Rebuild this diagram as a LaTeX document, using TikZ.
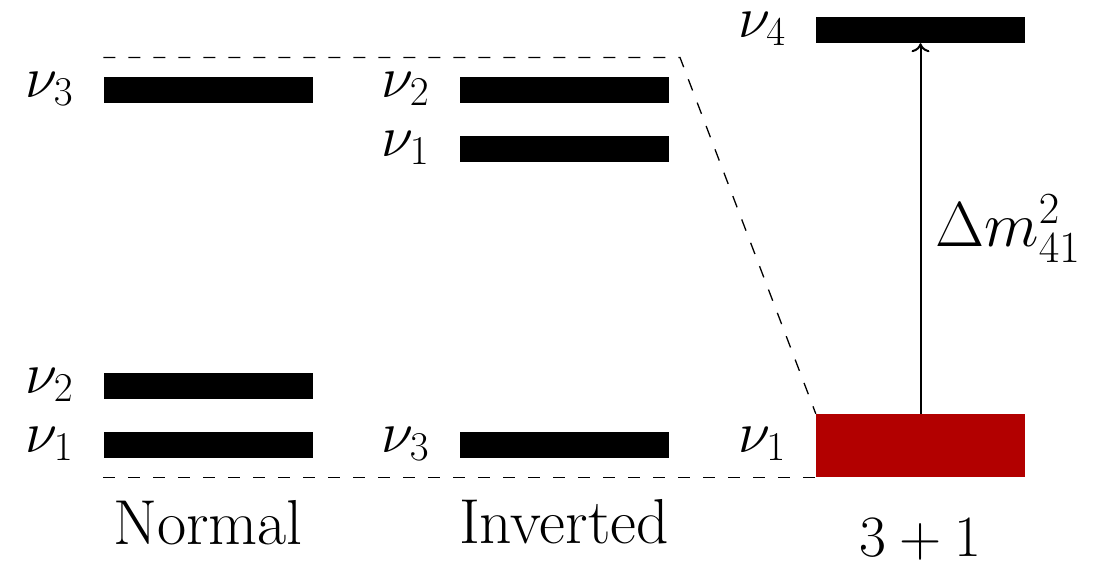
\RequirePackage{fix-cm}
\documentclass[tikz,border=0pt]{standalone}
\usetikzlibrary{arrows.meta}
\definecolor{sterile}{RGB}{178,0,0}
\begin{document}
\begin{tikzpicture}[x=1pt,y=-1pt,
  every node/.style={font=\fontsize{58.5}{70}\selectfont},
  big/.style={font=\fontsize{63.5}{76}\selectfont},
  level/.style={fill=black, inner sep=0pt, minimum width=209pt, minimum height=26pt},
  lbl/.style={anchor=base east, inner sep=0pt},
  scheme/.style={anchor=base, inner sep=0pt},
  guide/.style={dash pattern=on 12pt off 13pt, line width=1.3pt},
  gap/.style={line width=2pt, -{To[length=9pt,width=18pt]}},
]
\useasboundingbox (0,0) rectangle (1102,562);

% normal ordering
\node[level] (n3) at (208,90)  {};
\node[level] (n2) at (208,386) {};
\node[level] (n1) at (208,445) {};
\node[lbl] (ln3) at ([shift={(-30,7)}]n3.west) {$\nu_3$};
\node[lbl] (ln2) at ([shift={(-30,7)}]n2.west) {$\nu_2$};
\node[lbl] (ln1) at ([shift={(-30,7)}]n1.west) {$\nu_1$};

% inverted ordering
\node[level] (i2) at (564,90)  {};
\node[level] (i1) at (564,149) {};
\node[level] (i3) at (564,445) {};
\node[lbl] (li2) at ([shift={(-30,7)}]i2.west) {$\nu_2$};
\node[lbl] (li1) at ([shift={(-30,7)}]i1.west) {$\nu_1$};
\node[lbl] (li3) at ([shift={(-30,7)}]i3.west) {$\nu_3$};

% 3+1 scheme
\node[level] (s4) at (920.5,30) {};
\node[fill=sterile, inner sep=0pt, minimum width=209pt, minimum height=63pt] (s1) at (920.5,445.5) {};
\node[lbl] (ls4) at ([shift={(-30,7)}]s4.west) {$\nu_4$};
\node[lbl] (ls1) at ([shift={(-30,6.5)}]s1.west) {$\nu_1$};

% scheme names
\node[scheme, big] (tn) at (208,544) {Normal};
\node[scheme, big] (ti) at (564,543) {Inverted};
\node[scheme] (ts) at (920.5,556) {$3+1$};

% dashed guides
\coordinate (topL) at (n3.west |- 0,57.5);
\coordinate (bend) at (680,57.5);
\coordinate (botL) at (n1.west |- s1.south);
\draw[guide] (topL) -- (bend) -- (s1.north west);
\draw[guide] (botL) -- (s1.south west);

% mass splitting
\draw[gap] (s1.north) -- (s4.south)
  node[midway, anchor=west, xshift=14pt, inner sep=0pt, big] (dm) {$\Delta m^2_{41}$};
\end{tikzpicture}
\end{document}
